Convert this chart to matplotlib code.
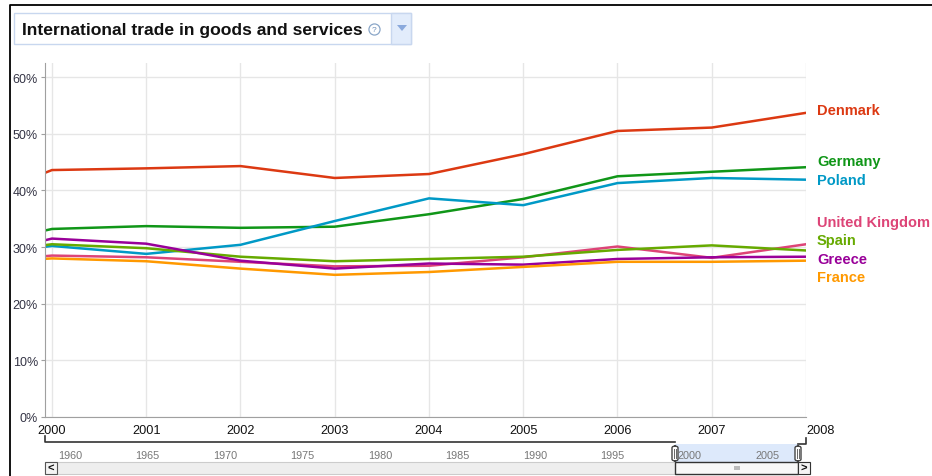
import numpy as np
import matplotlib.pyplot as plt
from matplotlib.patches import Rectangle, FancyBboxPatch, Polygon
from matplotlib.lines import Line2D

plt.rcParams['font.family'] = ['Liberation Sans', 'DejaVu Sans']

# data (share of GDP, %)
years = [1999, 2000, 2001, 2002, 2003, 2004, 2005, 2006, 2007, 2008]
denmark = [37.0, 43.6, 43.9, 44.3, 42.2, 42.9, 46.4, 50.5, 51.1, 53.7]
germany = [29.5, 33.2, 33.7, 33.4, 33.6, 35.8, 38.5, 42.5, 43.3, 44.1]
poland = [28.2, 30.2, 28.8, 30.4, 34.6, 38.6, 37.4, 41.3, 42.2, 41.9]
uk = [27.1, 28.5, 28.2, 27.4, 26.6, 26.7, 28.2, 30.1, 28.1, 30.5]
spain = [28.5, 30.5, 29.8, 28.3, 27.5, 27.9, 28.3, 29.5, 30.3, 29.4]
greece = [27.5, 31.5, 30.6, 27.6, 26.2, 27.1, 26.9, 27.9, 28.2, 28.3]
france = [27.0, 28.0, 27.5, 26.2, 25.1, 25.6, 26.5, 27.4, 27.4, 27.6]

countries = ['Denmark', 'Germany', 'Poland', 'United Kingdom', 'Spain', 'Greece', 'France']
colors = ['#dc3912', '#109618', '#0099c6', '#dd4477', '#66aa00', '#990099', '#ff9900']
series = [denmark, germany, poland, uk, spain, greece, france]
label_y = [111, 162, 181, 223, 241, 260, 278]  # pixel rows of the end labels

yticks = [0, 10, 20, 30, 40, 50, 60]
xticks = [2000, 2001, 2002, 2003, 2004, 2005, 2006, 2007, 2008]
slider_years = [1960, 1965, 1970, 1975, 1980, 1985, 1990, 1995, 2000, 2005]

W, H = 932, 477
fig = plt.figure(figsize=(W / 100, H / 100), dpi=100)

def fx(x):
    return x / W

def fy(y):
    return 1 - y / H

def add_line(xs, ys, **kw):
    fig.add_artist(Line2D([fx(x) for x in xs], [fy(y) for y in ys],
                          transform=fig.transFigure, **kw))

def add_rect(x0, y0, x1, y1, **kw):
    fig.add_artist(Rectangle((fx(x0), fy(y1)), fx(x1) - fx(x0), fy(y0) - fy(y1),
                             transform=fig.transFigure, **kw))

# outer frame
add_line([9.5, 9.5, W], [H, 6, 6], color='black', lw=1.3)

# title box
add_rect(14, 14, 411, 45, facecolor='white', edgecolor='#c8d7ef', lw=1)
add_rect(391, 14, 411, 45, facecolor='#e2ecfb', edgecolor='#c8d7ef', lw=1)
fig.add_artist(Polygon([(fx(397), fy(26)), (fx(407), fy(26)), (fx(402), fy(32))],
                       closed=True, transform=fig.transFigure, facecolor='#8aa9dc', edgecolor='none'))
fig.text(fx(22), fy(30), 'International trade in goods and services', fontsize=12.6,
         fontweight='bold', color='#111111', va='center', ha='left')
add_line([374], [30], marker='o', markersize=8, markerfacecolor='white',
         markeredgecolor='#8aa6c8', markeredgewidth=0.9, linestyle='none')
fig.text(fx(374), fy(30.5), '?', fontsize=6, color='#6f8fb8', ha='center', va='center')

# main plot
x0 = 1999.926
ax = fig.add_axes([fx(45), fy(418), fx(806) - fx(45), fy(64) - fy(418)])
for vals, c in zip(series, colors):
    ax.plot(years, vals, color=c, lw=1.8, solid_joinstyle='round')
ax.set_xlim(x0, 2008)
ax.set_ylim(0, 62.5)
ax.set_yticks(yticks)
ax.set_yticklabels([f'{v}%' for v in yticks])
ax.set_xticks(xticks)
ax.set_xticklabels([str(v) for v in xticks])
ax.grid(True, color='#e6e6e6', lw=1)
ax.set_axisbelow(True)
for s in ['top', 'right']:
    ax.spines[s].set_visible(False)
ax.spines['left'].set_color('#a0a0a0')
ax.spines['bottom'].set_color('#a0a0a0')
ax.tick_params(axis='y', length=3, color='#a0a0a0', labelsize=9, labelcolor='#333344', pad=2)
ax.tick_params(axis='x', length=0, labelsize=9.2, labelcolor='#111111', pad=5)
ax.get_xticklabels()[-1].set_horizontalalignment('left')

for name, c, ly in zip(countries, colors, label_y):
    fig.text(fx(817), fy(ly), name, color=c, fontsize=10.5, fontweight='bold', va='center', ha='left')

# time slider
slx = lambda yr: 70 + (yr - 1960) * 15.5
add_rect(675, 445, 798, 463, facecolor='#dde9fb', edgecolor='none')
add_line([45, 45, 675], [437, 443, 443], color='#333333', lw=1.2)
add_line([798, 806, 806], [445, 445, 439], color='#333333', lw=1.2)
for yr in slider_years:
    fig.text(fx(slx(yr)), fy(456), str(yr), fontsize=7.8, color='#777777', ha='center', va='center')

# scrollbar
add_rect(45, 463, 810, 475, facecolor='#eeeeee', edgecolor='#cccccc', lw=0.8)
add_rect(675, 463, 798, 475, facecolor='#f8f8f8', edgecolor='#333333', lw=1)
add_rect(734, 467, 740, 471, facecolor='#bbbbbb', edgecolor='none')
add_rect(45, 463, 57, 475, facecolor='#f4f4f4', edgecolor='#555555', lw=0.8)
add_rect(798, 463, 810, 475, facecolor='#f4f4f4', edgecolor='#333333', lw=0.8)
fig.text(fx(51), fy(469), '<', fontsize=8, fontweight='bold', ha='center', va='center', color='#111111')
fig.text(fx(804), fy(469), '>', fontsize=8, fontweight='bold', ha='center', va='center', color='#111111')

# window handles
for hx in [675, 798]:
    fig.add_artist(FancyBboxPatch((fx(hx - 3), fy(462)), 6 / W, 15 / H,
                                  boxstyle='round,pad=0,rounding_size=0.004',
                                  transform=fig.transFigure, facecolor='white',
                                  edgecolor='#444444', lw=1))
    add_line([hx - 1, hx - 1], [450, 459], color='#666666', lw=0.7)
    add_line([hx + 1, hx + 1], [450, 459], color='#666666', lw=0.7)

fig.savefig('out.png', dpi=100)
